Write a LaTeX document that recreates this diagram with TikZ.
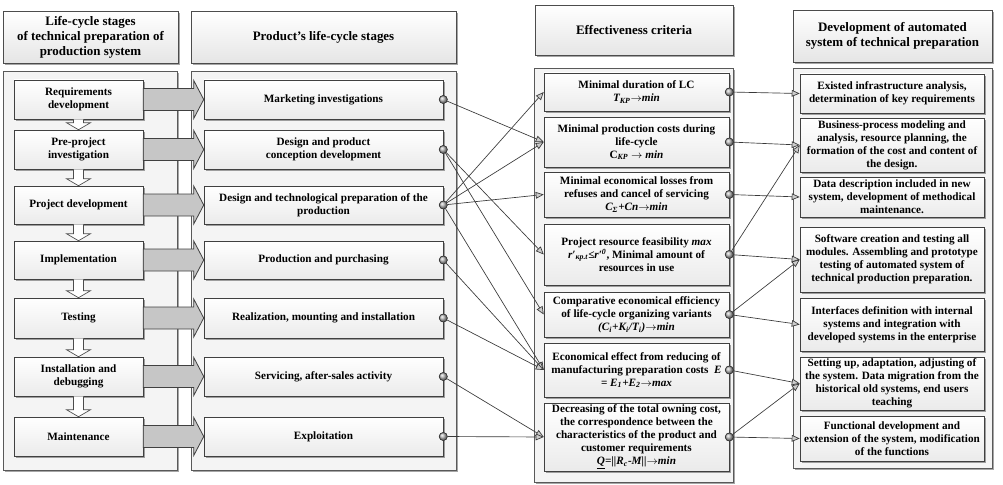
\documentclass[tikz,border=0pt]{standalone}
\usepackage{fontspec}
\setmainfont{Liberation Serif}
\usetikzlibrary{calc,shadows,arrows.meta}
\newcommand{\mybox}[7]{%
 \pgfmathsetmacro\mycx{(#2+#4)/2}\pgfmathsetmacro\mycy{(#3+#5)/2}%
 \pgfmathsetmacro\myww{(#4-#2)*0.75}\pgfmathsetmacro\myhh{(#5-#3)*0.75}%
 \node[#6, minimum width=\myww pt, minimum height=\myhh pt] (#1) at (\mycx,\mycy) {#7};}
\begin{document}
\begin{tikzpicture}[x=0.75pt,y=-0.75pt,
 font=\bfseries\fontsize{8.4}{9.8}\selectfont,
 shad/.style={drop shadow={shadow xshift=1.2pt,shadow yshift=-1.2pt,opacity=0.35,fill=black}},
 container/.style={draw=gray!70!black, fill=gray!9, shad, inner sep=0pt},
 hdr/.style={draw=gray!60!black, top color=white, bottom color=gray!20, shad, align=center, inner sep=1pt,
   font=\bfseries\fontsize{9.7}{11.2}\selectfont},
 ibox/.style={draw=black!75, top color=white, bottom color=gray!16, shad, align=center, inner sep=1pt},
 bigarr/.style={draw=black!75, fill=gray!45, line width=0.6pt},
 hollow/.style={draw=gray!60!black, fill=white, line width=0.5pt},
 conn/.style={draw=gray!45!black, line width=0.5pt, -{Triangle[length=6pt,width=5pt,fill=gray!40]}},
 dot/.style={circle, inner sep=0pt, minimum size=6pt, draw=gray!40!black, shading=ball, ball color=gray!55}]
\useasboundingbox (0,0) rectangle (1003,485);
% headers
\mybox{H1}{3}{11}{178}{63}{hdr}{Life-cycle stages\\of technical preparation of\\production system}
\mybox{H2}{191}{11}{456}{63}{hdr}{Product’s life-cycle stages}
\mybox{H3}{535}{5}{733}{55}{hdr}{Effectiveness criteria}
\mybox{H4}{793}{10}{992}{62}{hdr}{Development of automated\\system of technical preparation}
% containers
\mybox{C1}{3}{71}{177}{470}{container}{}
\mybox{C2}{191}{71}{456}{470}{container}{}
\mybox{C3}{534}{68}{733}{482}{container}{}
\mybox{C4}{793}{68}{992}{468}{container}{}
% column 1
\mybox{B1}{14}{80}{143}{119}{ibox}{Requirements\\development}
\mybox{B2}{14}{130}{143}{169}{ibox}{Pre-project\\investigation}
\mybox{B3}{14}{186}{143}{224}{ibox}{Project development}
\mybox{B4}{14}{241}{143}{279}{ibox}{Implementation}
\mybox{B5}{14}{298}{143}{338}{ibox}{Testing}
\mybox{B6}{14}{357}{143}{396}{ibox}{Installation and\\debugging}
\mybox{B7}{14}{417}{143}{456}{ibox}{Maintenance}
% column 2
\mybox{P1}{204}{80}{443}{119}{ibox}{Marketing investigations}
\mybox{P2}{204}{130}{443}{169}{ibox}{Design and product\\conception development}
\mybox{P3}{204}{186}{443}{224}{ibox}{Design and technological preparation of the\\production}
\mybox{P4}{204}{241}{443}{279}{ibox}{Production and purchasing}
\mybox{P5}{204}{298}{443}{338}{ibox}{Realization, mounting and installation}
\mybox{P6}{204}{357}{443}{396}{ibox}{Servicing, after-sales activity}
\mybox{P7}{204}{417}{443}{456}{ibox}{Exploitation}
% column 3
\mybox{E1}{544}{73}{729}{111}{ibox}{Minimal duration of LC\\\textit{T\textsubscript{KP}$\rightarrow$min}}
\mybox{E2}{544}{117}{729}{167}{ibox}{Minimal production costs during\\life-cycle\\C\textsubscript{\textit{KP}} $\rightarrow$ \textit{min}}
\mybox{E3}{544}{172}{729}{217}{ibox}{Minimal economical losses from\\refuses and cancel of servicing\\\textit{C\textsubscript{Σ}+Cn$\rightarrow$min}}
\mybox{E4}{544}{224}{729}{285}{ibox}{Project resource feasibility \textit{max}\\\textit{r′\textsubscript{кр.t}≤r′\textsuperscript{0}}, Minimal amount of\\resources in use}
\mybox{E5}{544}{292}{729}{337}{ibox}{Comparative economical efficiency\\of life-cycle organizing variants\\\textit{(C\textsubscript{i}+K\textsubscript{i}/T\textsubscript{i})$\rightarrow$min}}
\mybox{E6}{544}{343}{729}{397}{ibox}{Economical effect from reducing of\\manufacturing preparation costs~~\textit{E}\\= \textit{E\textsubscript{1}+E\textsubscript{2}$\rightarrow$max}}
\mybox{E7}{544}{403}{729}{471}{ibox}{Decreasing of the total owning cost,\\the correspondence between the\\characteristics of the product and\\customer requirements\\\textit{\underline{Q}=||R\textsubscript{c}-M||$\rightarrow$min}}
% column 4
\mybox{D1}{800}{74}{984}{113}{ibox}{Existed infrastructure analysis,\\determination of key requirements}
\mybox{D2}{800}{118}{984}{172}{ibox}{Business-process modeling and\\analysis, resource planning, the\\formation of the cost and content of\\the design.}
\mybox{D3}{800}{177}{984}{217}{ibox}{Data description included in new\\system, development of methodical\\maintenance.}
\mybox{D4}{800}{227}{984}{292}{ibox}{Software creation and testing all\\modules. Assembling and prototype\\testing of automated system of\\technical production preparation.}
\mybox{D5}{800}{298}{984}{351}{ibox}{Interfaces definition with internal\\systems and integration with\\developed systems in the enterprise}
\mybox{D6}{800}{357}{984}{410}{ibox}{Setting up, adaptation, adjusting of\\the system. Data migration from the\\historical old systems, end users\\teaching}
\mybox{D7}{800}{416}{984}{461}{ibox}{Functional development and\\extension of the system, modification\\of the functions}
% big arrows col1 -> col2
\foreach \i in {1,...,7}{
 \draw[bigarr] ($(B\i.east)+(0,-11)$) -- ($(P\i.west)+(-10,-11)$) -- ($(P\i.west)+(-10,-19)$) -- (P\i.west)
   -- ($(P\i.west)+(-10,19)$) -- ($(P\i.west)+(-10,11)$) -- ($(B\i.east)+(0,11)$) -- cycle;
}
% hollow down arrows
\foreach \a/\b in {B1/B2,B2/B3,B3/B4,B4/B5,B5/B6,B6/B7}{
 \draw[hollow] ($(\a.south)+(-5,0)$) -- ($(\b.north)+(-5,-7)$) -- ($(\b.north)+(-12,-7)$) -- (\b.north)
   -- ($(\b.north)+(12,-7)$) -- ($(\b.north)+(5,-7)$) -- ($(\a.south)+(5,0)$);
}
% dots
\foreach \i in {1,...,7}{
 \coordinate (pc\i) at (P\i.east);
 \coordinate (ec\i) at (E\i.east);
}
\foreach \i in {1,...,7}{
 \node[dot] (pd\i) at (pc\i) {};
 \node[dot] (ed\i) at (ec\i) {};
}
% connectors col2 -> col3
\draw[conn] (pd1) -- (E2.west);
\draw[conn] (pd2) -- (E4.west);
\draw[conn] (pd2) -- (E5.west);
\draw[conn] (pd3) -- (E1.west);
\draw[conn] (pd3) -- (E2.west);
\draw[conn] (pd3) -- (E3.west);
\draw[conn] (pd3) -- (E6.west);
\draw[conn] (pd4) -- (E6.west);
\draw[conn] (pd5) -- (E6.west);
\draw[conn] (pd6) -- (E7.west);
\draw[conn] (pd7) -- (E7.west);
% connectors col3 -> col4
\draw[conn] (ed1) -- (D1.west);
\draw[conn] (ed2) -- (D2.west);
\draw[conn] (ed3) -- (D3.west);
\draw[conn] (ed4) -- (D4.west);
\draw[conn] (ed4) -- (D2.west);
\draw[conn] (ed5) -- (D4.west);
\draw[conn] (ed5) -- (D5.west);
\draw[conn] (ed6) -- (D6.west);
\draw[conn] (ed7) -- (D6.west);
\draw[conn] (ed7) -- (D7.west);
% redraw dots on top
\foreach \i in {1,...,7}{
 \node[dot] at (pc\i) {};
 \node[dot] at (ec\i) {};
}
\end{tikzpicture}
\end{document}
